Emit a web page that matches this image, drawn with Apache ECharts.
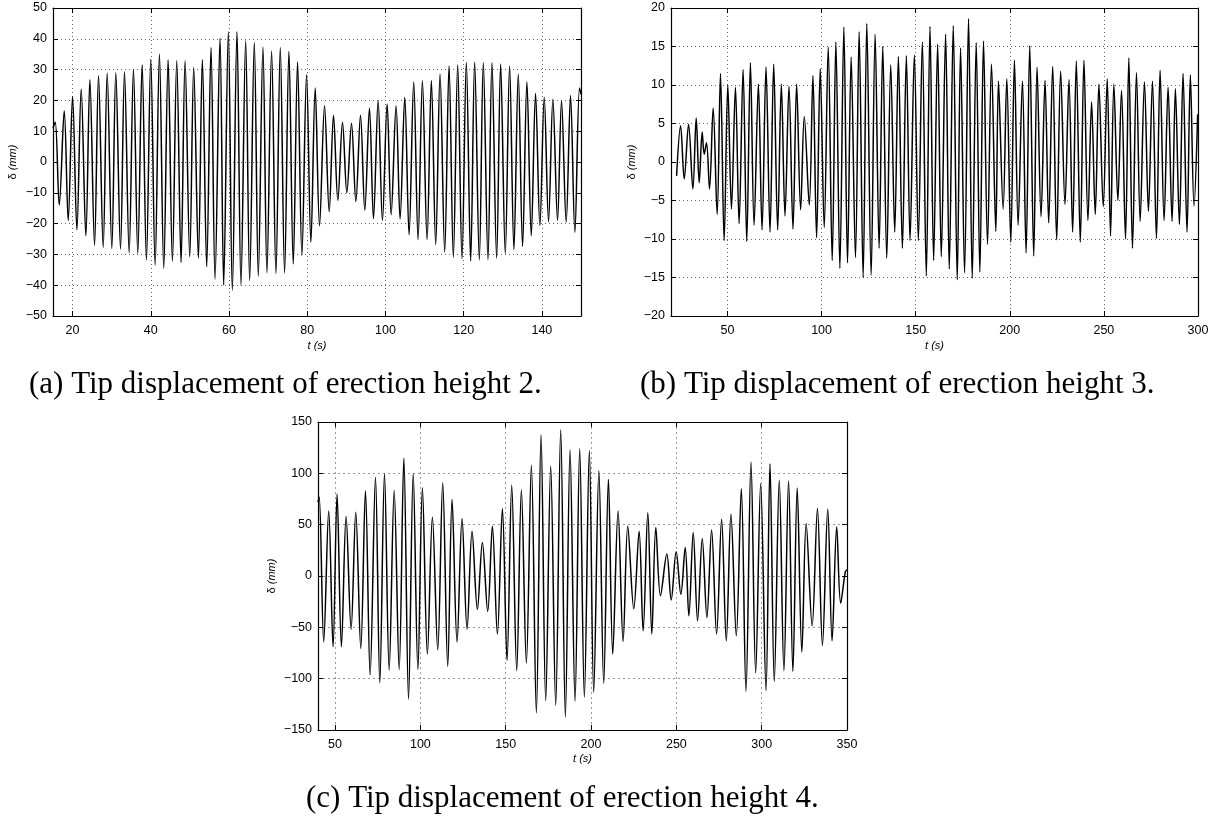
<!DOCTYPE html>
<html><head><meta charset="utf-8">
<script src="https://cdn.jsdelivr.net/npm/echarts@6/dist/echarts.min.js"></script>
<style>html,body{margin:0;padding:0;background:#fff}#c{width:1229px;height:818px}</style>
</head><body><div id="c"></div>
<script>
// Panel (a): erection height 2 — extrema of the tip displacement trace
const tA = [15,15.57,16.6,17.87,18.89,20.0,21.11,22.21,23.4,24.43,25.62,26.64,27.83,28.85,30.04,31.06,32.26,33.28,34.47,35.57,36.68,37.79,38.89,40.0,41.11,42.21,43.32,44.43,45.53,46.64,47.74,48.77,49.96,50.98,52.17,53.19,54.3,55.4,56.43,57.7,58.64,59.83,60.85,62.04,63.06,64.26,65.28,66.47,67.49,68.68,69.7,70.89,72.0,73.11,74.21,75.32,76.43,77.53,78.64,79.83,80.94,82.04,83.15,84.43,85.62,86.72,87.83,89.02,90.13,91.32,92.43,93.62,94.72,95.91,96.94,98.13,99.23,100.43,101.45,102.72,103.74,104.94,106.04,107.23,108.34,109.45,110.64,111.74,112.85,113.96,115.15,116.26,117.36,118.47,119.57,120.68,121.79,122.81,124.0,125.02,126.21,127.23,128.43,129.45,130.64,131.74,132.85,133.96,135.06,136.17,137.28,138.38,139.49,140.6,141.7,142.81,144.0,145.02,146.21,147.32,148.43,149.62,150];
const dA = [11,13,-14,16.6,-19,21.3,-22,23.7,-24,26.7,-27,28,-27.7,28.8,-28,29,-28.3,29.2,-29.5,30,-29.7,31.6,-31.8,33.4,-33.5,35.1,-34.5,33.2,-32.2,32.9,-32.6,32.9,-30.8,30.7,-31.2,33.2,-34,37.2,-38,40.2,-39.9,42.3,-41.7,42.3,-39.9,39.4,-38.5,38.8,-37.1,37.3,-36,36,-36.2,37.2,-36,35.9,-33.1,32.5,-30.3,28.3,-26,24,-20.7,18.3,-16.1,15.2,-12.5,12.9,-10,12.6,-12.8,15.2,-15.7,17.5,-18.4,20,-19,18.8,-17.1,18.3,-18.5,21,-23.6,26,-25.2,26.4,-25.2,26.4,-26.8,28.6,-29.2,31.2,-30.9,31.6,-31.4,32.4,-32.1,32.5,-31.8,32.3,-31.7,32.3,-31.2,31.8,-29.7,31.2,-28.4,28.5,-27.4,26,-23.9,22.2,-20.6,21,-19.4,20.4,-19,19.9,-19.5,21.6,-22.8,24,22];

// Panel (b): erection height 3
const tB = [22.97,25.09,27.03,29.33,31.63,33.39,34.98,36.57,37.63,38.87,40.46,42.40,44.52,46.29,48.23,50.18,52.12,54.24,56.18,58.30,60.25,62.19,64.13,66.43,68.37,70.49,72.61,74.56,76.68,78.62,80.57,82.69,84.81,86.75,88.87,90.81,93.46,95.41,97.35,99.29,101.41,103.53,105.65,107.60,109.72,111.84,113.78,115.72,118.02,119.96,122.08,124.03,126.33,128.45,130.57,132.51,134.63,136.75,138.87,140.81,142.93,145.05,147.0,149.29,151.41,153.53,155.65,157.60,159.54,161.66,163.60,165.90,167.84,169.96,172.08,173.85,175.97,178.09,180.04,182.16,184.10,186.04,188.16,190.28,192.58,193.99,196.47,198.41,200.53,202.47,204.42,206.71,208.66,210.60,212.72,214.49,216.61,218.73,220.67,222.79,224.91,227.03,229.33,231.45,233.39,235.34,237.46,239.40,241.52,243.46,245.41,247.35,249.65,251.77,253.53,255.30,257.42,259.36,261.48,263.25,265.19,267.31,269.26,271.55,273.67,275.80,277.92,279.86,281.98,284.10,286.22,287.99,290.11,292.05,294.17,295.94,297.88,299.82];
const dB = [-1.8,4.7,-2.2,4.9,-3.5,5.7,-2.7,3.9,1.0,2.5,-3.5,7.0,-6.8,11.5,-10.2,10.0,-6.1,9.7,-8.0,12.0,-10.3,12.9,-8.2,10.1,-8.8,12.3,-9.1,12.7,-8.8,10.1,-7.0,9.8,-8.7,10.1,-6.2,5.9,-5.6,11.2,-9.8,12.1,-8.5,14.9,-12.8,15.6,-13.8,17.5,-13.1,13.6,-12.4,16.9,-15.0,18.0,-14.7,16.6,-11.2,15.0,-12.5,12.6,-9.1,13.7,-11.2,13.8,-10.2,13.9,-10.2,15.6,-14.8,17.6,-12.8,15.3,-12.3,16.6,-13.9,17.7,-15.3,14.8,-14.4,18.6,-15.1,15.5,-14.3,15.7,-10.7,12.7,-9.0,10.5,-6.1,10.8,-10.4,13.2,-8.2,10.5,-11.8,15.1,-12.2,12.3,-7.1,10.6,-7.9,12.4,-10.1,11.8,-5.5,10.7,-9.1,13.1,-10.4,13.2,-7.6,7.8,-6.8,10.1,-5.8,10.8,-9.6,10.1,-5.0,9.3,-10.0,13.5,-11.2,11.6,-7.7,10.4,-6.4,10.5,-9.9,11.9,-7.6,9.7,-7.7,9.5,-8.1,11.5,-9.1,11.3,-5.7,6.2];

// Panel (c): erection height 4
const tC = [40.0,40.7,43.35,46.28,48.83,51.17,53.72,56.46,59.39,62.13,65.07,67.81,70.55,73.68,76.22,78.96,81.7,84.64,87.57,90.31,93.05,95.79,98.53,101.17,104.1,107.03,110.16,113.09,116.02,118.55,121.48,124.41,127.34,130.27,133.4,136.33,139.45,142.19,145.12,148.05,150.78,153.52,156.45,159.18,162.11,165.04,167.97,170.7,173.44,176.37,179.3,182.23,184.96,187.7,190.63,193.36,196.09,199.02,201.56,204.6,207.44,210.18,212.72,215.85,218.79,221.53,225.05,228.18,230.53,233.27,235.62,237.96,240.7,244.42,246.97,249.9,252.64,255.19,257.34,259.88,262.43,265.17,267.91,270.65,273.58,276.52,279.26,282.0,285.13,288.06,290.8,293.74,296.48,299.41,302.54,304.87,307.39,310.31,313.04,315.76,318.29,320.82,323.54,326.07,329.57,332.68,335.6,338.72,341.25,343.97,346.3,349.03,350];
const dC = [72,77,-64,63.4,-68.9,79.6,-68.9,57.9,-52,62.1,-70.5,82.9,-96.5,96.2,-104,99.5,-91.6,83.2,-91,114.7,-120,99.5,-91,85.8,-76,57.3,-71.8,90.6,-88,74.4,-64.4,56,-51.8,43.7,-32.4,32.7,-34.6,48.5,-56.6,65.7,-82.2,88.3,-92.2,83.8,-84.8,107.8,-133.3,137.5,-121.4,107.1,-125.9,142.4,-137.5,123,-122,124,-118,122.3,-113.3,102.4,-104.5,94.2,-76,63.4,-63.8,48.5,-32,43.7,-53.4,61.8,-56.6,47.2,-19.1,21.4,-23.3,23.6,-17.8,27.8,-38.8,42.4,-43.7,36.6,-40.5,44.7,-56.6,55.3,-63.1,60.2,-58.3,85.1,-112.3,111,-94.5,90,-111.7,109.4,-102.6,93.2,-92.2,92.6,-92.9,85.8,-74.1,51.1,-48.5,65.7,-67.6,65,-63.1,47.9,-26.5,4.2,6];

// tick labels
const xTicksA = [20,40,60,80,100,120,140];
const xTicksB = [50,100,150,200,250,300];
const xTicksC = [50,100,150,200,250,300,350];
const captions = ['(a) Tip displacement of erection height 2.', '(b) Tip displacement of erection height 3.', '(c) Tip displacement of erection height 4.'];

const pairs = (t, d) => t.slice(0, Math.min(t.length, d.length)).map((v, i) => [v, d[i]]);
const SANS = 'Liberation Sans, Arial, sans-serif';
const minus = v => String(v).replace('-', '\u2212');

const panels = [
  {grid:{left:53, top:8, width:528, height:308}, xmin:15, xmax:150, xt:xTicksA, ymin:-50, ymax:50, yint:10, yGap:35, xGap:24, grid2:'#666', dash:[1,3], data:pairs(tA,dA)},
  {grid:{left:671, top:8, width:527, height:308}, xmin:20, xmax:300, xt:xTicksB, ymin:-20, ymax:20, yint:5, yGap:34, xGap:24, grid2:'#666', dash:[1,3], data:pairs(tB,dB)},
  {grid:{left:318, top:422, width:529, height:308}, xmin:40, xmax:350, xt:xTicksC, ymin:-150, ymax:150, yint:50, yGap:41, xGap:23, grid2:'#999', dash:[2,3], data:pairs(tC,dC)}
];

const grids = [], xAxes = [], yAxes = [], series = [];
const axLine = {show:true, onZero:false, lineStyle:{color:'#000', width:1.2}};
const tick = {show:true, inside:true, length:5, lineStyle:{color:'#000', width:1}};
panels.forEach((p, i) => {
  grids.push(Object.assign({outerBoundsMode:'none', containLabel:false}, p.grid));
  xAxes.push({type:'value', gridIndex:i, position:'bottom', min:p.xmin, max:p.xmax,
    axisLine:axLine, axisTick:Object.assign({customValues:p.xt}, tick),
    axisLabel:{customValues:p.xt, color:'#000', fontSize:12.5, fontFamily:SANS, margin:8},
    splitLine:{show:true, lineStyle:{color:p.grid2, type:p.dash, width:1}},
    name:'{i|t (s)}', nameLocation:'middle', nameGap:p.xGap,
    nameTextStyle:{color:'#000', fontSize:11, fontFamily:SANS, rich:{i:{fontStyle:'italic', fontSize:11, fontFamily:SANS, color:'#000'}}}
  });
  xAxes.push({type:'value', gridIndex:i, position:'top', min:p.xmin, max:p.xmax,
    axisLine:axLine, axisTick:Object.assign({customValues:p.xt}, tick),
    axisLabel:{show:false, customValues:p.xt}, splitLine:{show:false}});
  yAxes.push({type:'value', gridIndex:i, position:'left', min:p.ymin, max:p.ymax, interval:p.yint,
    axisLine:axLine, axisTick:tick,
    axisLabel:{color:'#000', fontSize:12.5, fontFamily:SANS, margin:6, formatter:minus},
    splitLine:{show:true, lineStyle:{color:p.grid2, type:p.dash, width:1}},
    name:'\u03b4 {i|(mm)}', nameLocation:'middle', nameGap:p.yGap, nameRotate:90,
    nameTextStyle:{color:'#000', fontSize:11, fontFamily:SANS, rich:{i:{fontStyle:'italic', fontSize:11, fontFamily:SANS, color:'#000'}}}
  });
  yAxes.push({type:'value', gridIndex:i, position:'right', min:p.ymin, max:p.ymax, interval:p.yint,
    axisLine:axLine, axisTick:tick, axisLabel:{show:false}, splitLine:{show:false}});
  series.push({type:'line', xAxisIndex:2*i, yAxisIndex:2*i, data:p.data, showSymbol:false,
    smooth:0.35, lineStyle:{color:'#000', width:1.5}, silent:true});
});

const capFont = '31px "Liberation Serif", "DejaVu Serif", serif';
const chart = echarts.init(document.getElementById('c'));
chart.setOption({
  animation:false,
  backgroundColor:'#fff',
  grid:grids, xAxis:xAxes, yAxis:yAxes, series:series,
  graphic:[
    {type:'text', left:29, top:369, style:{text:captions[0], font:capFont, fill:'#000'}},
    {type:'text', left:640, top:369, style:{text:captions[1], font:capFont, fill:'#000'}},
    {type:'text', left:306, top:783, style:{text:captions[2], font:capFont, fill:'#000'}}
  ]
});
</script></body></html>
